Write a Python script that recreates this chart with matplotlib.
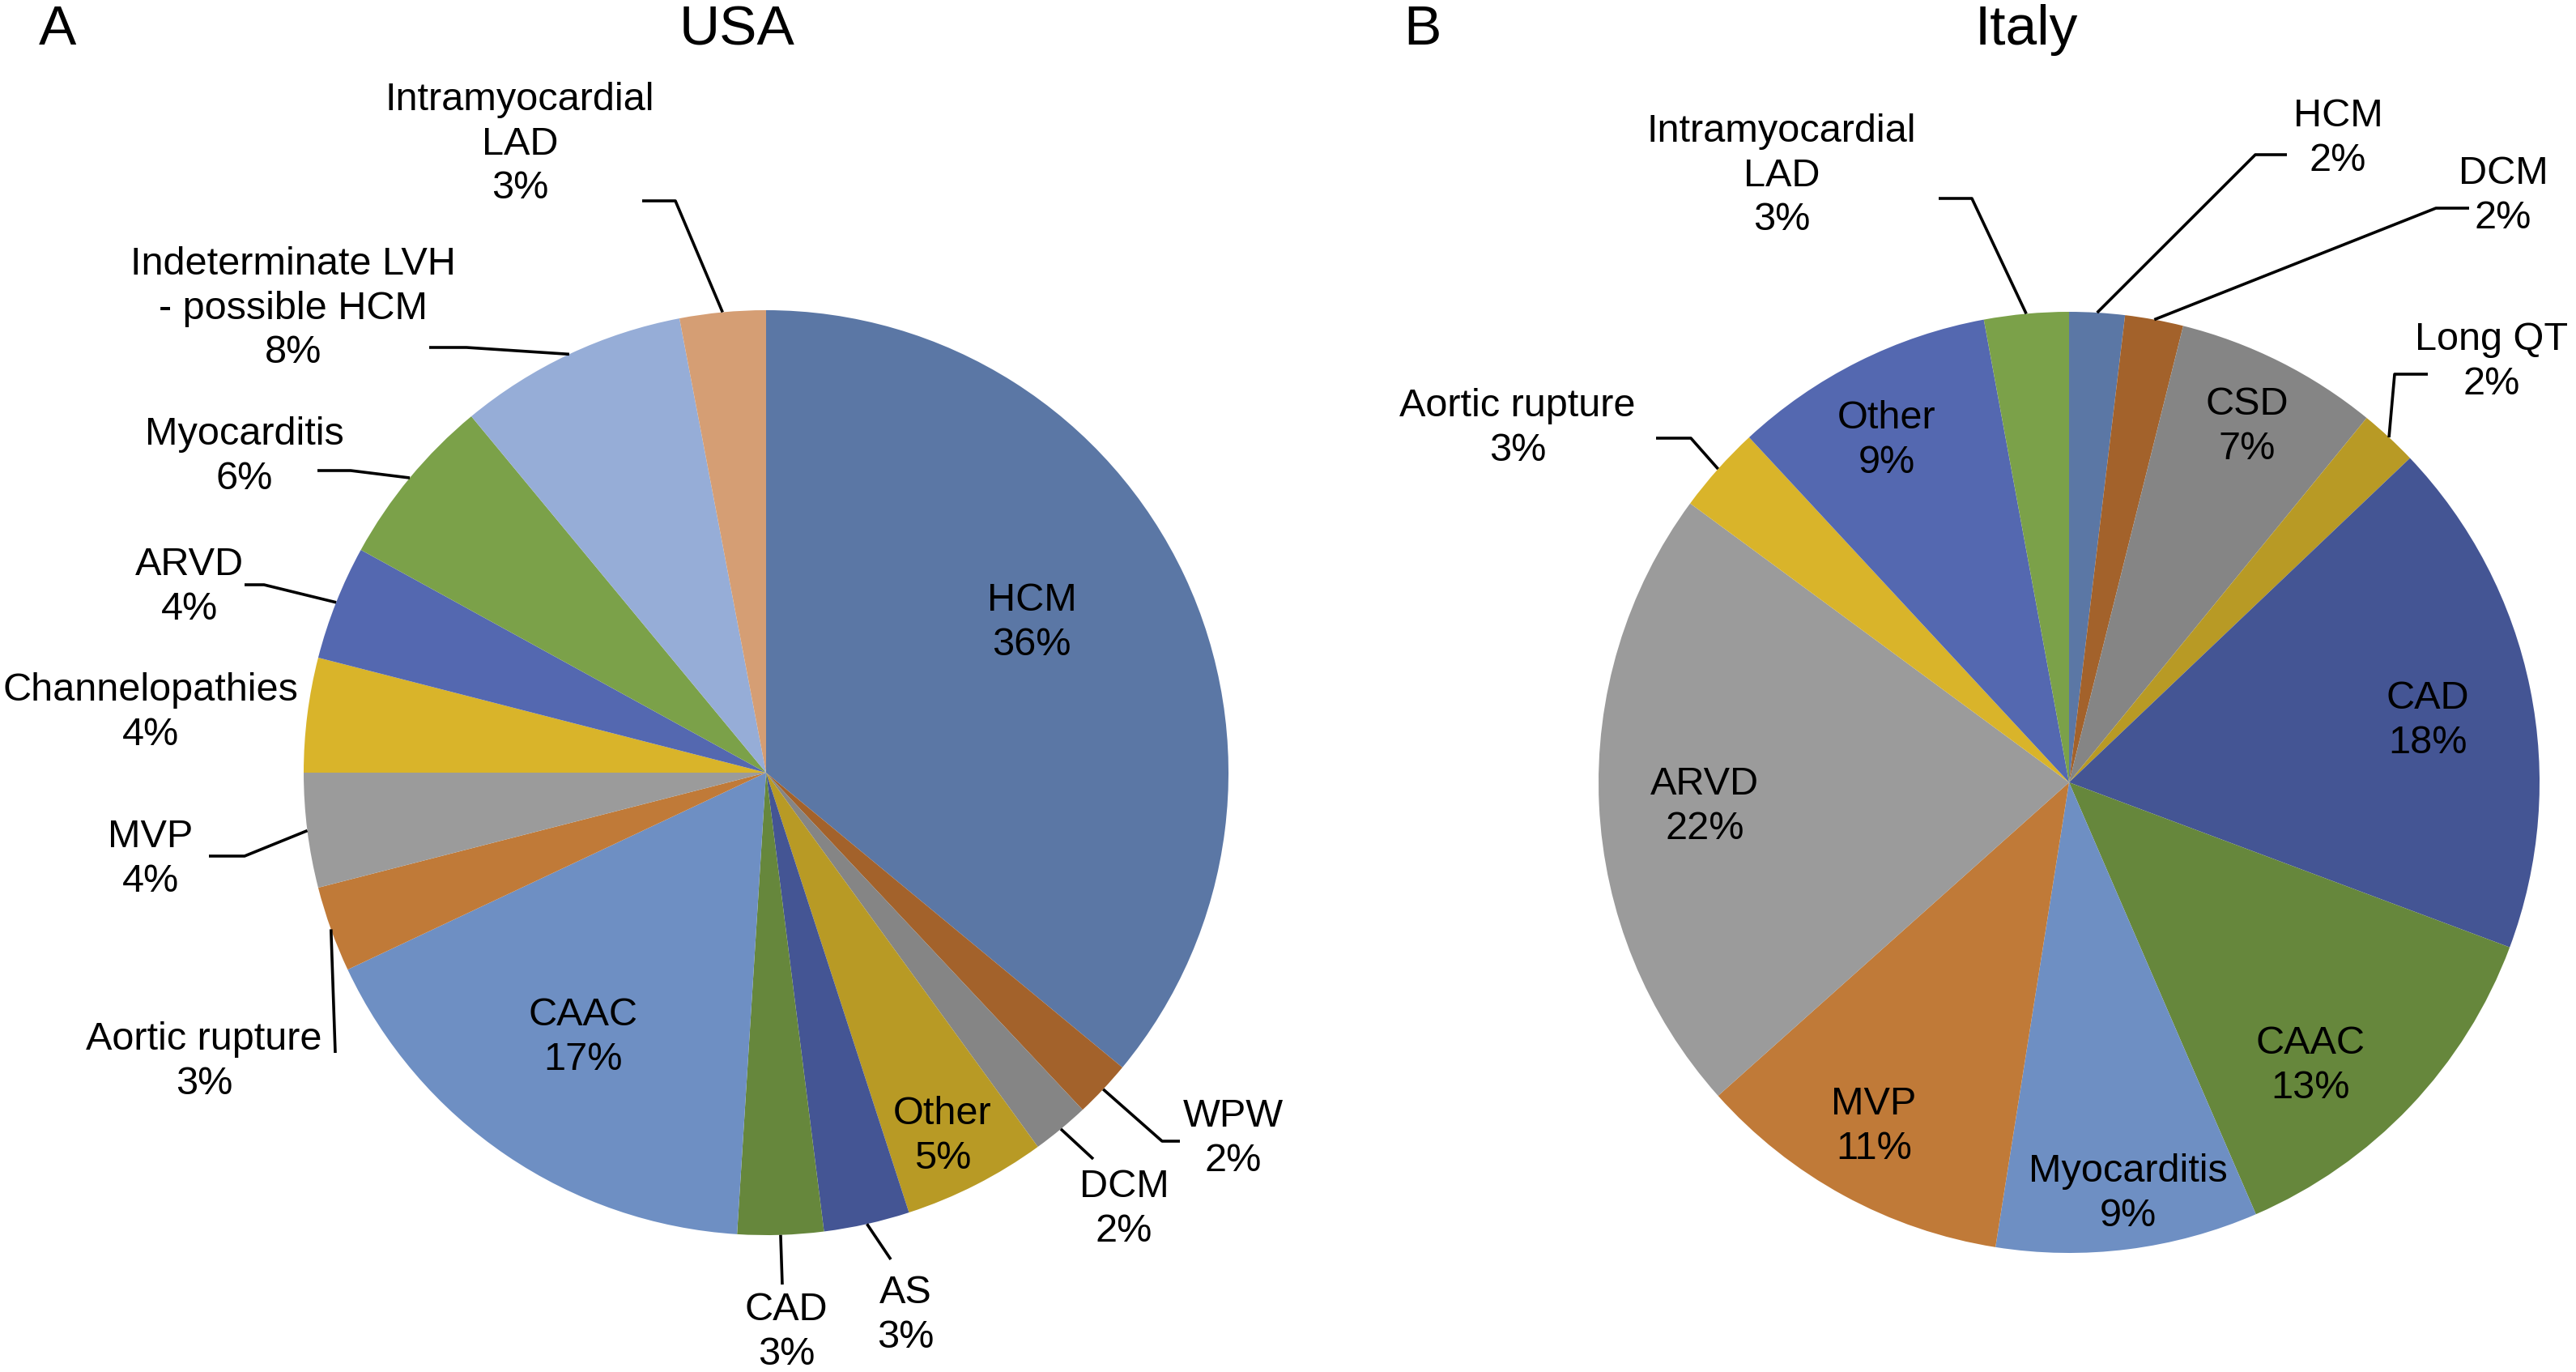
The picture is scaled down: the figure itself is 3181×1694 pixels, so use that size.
import matplotlib
matplotlib.use("Agg")
import matplotlib.pyplot as plt
import numpy as np

plt.rcParams["font.family"] = ["Liberation Sans", "DejaVu Sans"]

# Cause of death, clockwise from 12 o'clock
usa_names = ["HCM", "WPW", "DCM", "Other", "AS", "CAD", "CAAC",
             "Aortic rupture", "MVP", "Channelopathies", "ARVD",
             "Myocarditis", "Indeterminate LVH\n- possible HCM",
             "Intramyocardial\nLAD"]
usa_values = [36, 2, 2, 5, 3, 3, 17, 3, 4, 4, 4, 6, 8, 3]
usa_pct = [36, 2, 2, 5, 3, 3, 17, 3, 4, 4, 4, 6, 8, 3]

italy_names = ["HCM", "DCM", "CSD", "Long QT", "CAD", "CAAC",
               "Myocarditis", "MVP", "ARVD", "Aortic rupture", "Other",
               "Intramyocardial\nLAD"]
italy_values = [1.9, 2.0, 7.0, 2.0, 17.8, 12.8, 9.0, 10.9, 21.7, 3.0, 9.0, 2.9]
italy_pct = [2, 2, 7, 2, 18, 13, 9, 11, 22, 3, 9, 3]

# Excel-style palette
C_BLUE = "#5B77A5"
C_BROWN = "#A3622B"
C_DGRAY = "#858585"
C_MUSTARD = "#B89A25"
C_NAVY = "#445594"
C_DGREEN = "#66873C"
C_MBLUE = "#6E8FC3"
C_ORANGE = "#C07A38"
C_LGRAY = "#9B9B9B"
C_YELLOW = "#D9B42A"
C_ROYAL = "#5468B0"
C_GREEN = "#7BA149"
C_LBLUE = "#96ADD7"
C_TAN = "#D59E74"

usa_colors = [C_BLUE, C_BROWN, C_DGRAY, C_MUSTARD, C_NAVY, C_DGREEN, C_MBLUE,
              C_ORANGE, C_LGRAY, C_YELLOW, C_ROYAL, C_GREEN, C_LBLUE, C_TAN]
italy_colors = [C_BLUE, C_BROWN, C_DGRAY, C_MUSTARD, C_NAVY, C_DGREEN, C_MBLUE,
                C_ORANGE, C_LGRAY, C_YELLOW, C_ROYAL, C_GREEN]

W, H = 3181, 1694

# Layout in image pixels (y down): label centres and leader elbows
usa_center, usa_radius = (946, 954), 571
usa_text_pos = [(1274, 769), (1523, 1406), (1388, 1493), (1164, 1403),
                (1118, 1624), (971, 1645), (720, 1281), (252, 1311),
                (186, 1061), (186, 880), (234, 725), (302, 564),
                (362, 381), (642, 178)]
# (elbow_x, elbow_y, end_x) or None for labels without leader
usa_leaders = [None, (1435, 1409, 1457), (1350, 1431, 1350), None,
               (1100, 1555, 1100), (966, 1586, 966), None,
               (414, 1300, 414), (302, 1057, 258), None,
               (326, 722, 302), (433, 581, 392), (576, 429, 530),
               (834, 248, 793)]

italy_center, italy_radius = (2555, 966), 581
italy_text_pos = [(2887, 171), (3091, 242), (2775, 527), (3077, 447),
                  (2998, 890), (2853, 1316), (2628, 1474), (2314, 1391),
                  (2105, 996), (1874, 529), (2330, 544), (2200, 217)]
italy_leaders = [(2785, 191, 2824), (3008, 257, 3049), None,
                 (2957, 462, 2998), None, None, None, None, None,
                 (2088, 541, 2045), None, (2435, 245, 2394)]

FS = 17.5
TITLE_FS = 25


def yy(y):
    return H - y


def draw_pie(ax, values, colors, names, pcts, center, radius,
             text_pos, leaders):
    cx, cy = center
    ax.pie(values, colors=colors, startangle=90, counterclock=False,
           center=(cx, yy(cy)), radius=radius,
           wedgeprops=dict(linewidth=0))
    total = float(sum(values))
    cum = np.cumsum([0] + list(values))
    for i, name in enumerate(names):
        tx, ty = text_pos[i]
        ax.text(tx, yy(ty), f"{name}\n{pcts[i]}%", ha="center",
                va="center", ma="center", fontsize=FS, color="black",
                linespacing=1.27)
        if leaders[i] is None:
            continue
        mid = (cum[i] + values[i] / 2.0) / total
        theta = np.deg2rad(90 - 360 * mid)
        wx = cx + radius * np.cos(theta)
        wy = cy - radius * np.sin(theta)
        ex, ey, hx = leaders[i]
        ax.plot([wx, ex, hx], [yy(wy), yy(ey), yy(ey)], color="black",
                linewidth=1.3, solid_capstyle="butt")


fig = plt.figure(figsize=(W / 200, H / 200), dpi=200)
ax = fig.add_axes([0, 0, 1, 1])
ax.set_xlim(0, W)
ax.set_ylim(0, H)
ax.set_aspect("equal")
ax.axis("off")

draw_pie(ax, usa_values, usa_colors, usa_names, usa_pct, usa_center,
         usa_radius, usa_text_pos, usa_leaders)
draw_pie(ax, italy_values, italy_colors, italy_names, italy_pct,
         italy_center, italy_radius, italy_text_pos, italy_leaders)
ax.set_xlim(0, W)
ax.set_ylim(0, H)

ax.text(71, yy(37), "A", ha="center", va="center", fontsize=TITLE_FS)
ax.text(910, yy(37), "USA", ha="center", va="center", fontsize=TITLE_FS)
ax.text(1756, yy(37), "B", ha="center", va="center", fontsize=TITLE_FS)
ax.text(2502, yy(37), "Italy", ha="center", va="center", fontsize=TITLE_FS)

fig.savefig("out.png", dpi=200, facecolor="white")
plt.close(fig)
